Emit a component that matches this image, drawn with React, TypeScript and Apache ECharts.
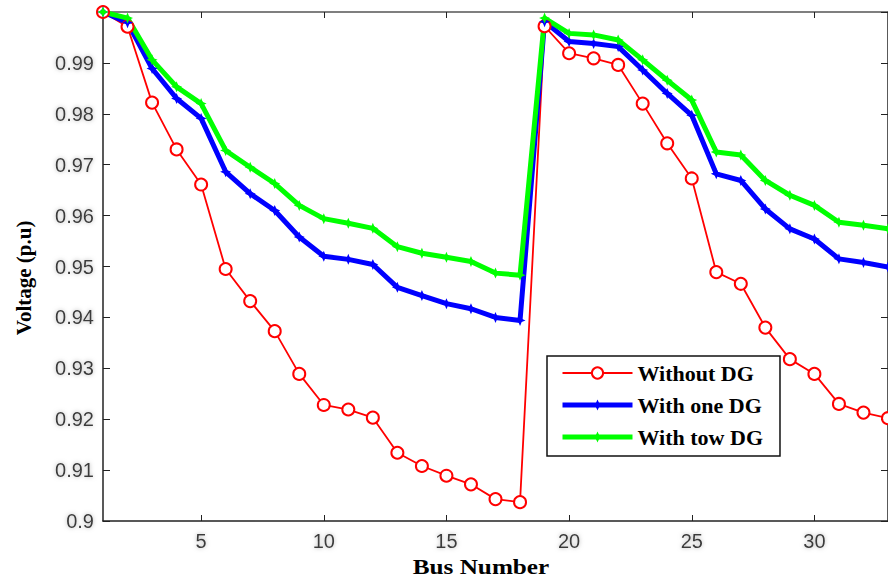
import React, { useEffect, useRef } from "react";
import * as echarts from "echarts";

const busNumbers = [1, 2, 3, 4, 5, 6, 7, 8, 9, 10, 11, 12, 13, 14, 15, 16, 17, 18, 19, 20, 21, 22, 23, 24, 25, 26, 27, 28, 29, 30, 31, 32, 33];
const withoutDG = [1.0, 0.9971, 0.9822, 0.973, 0.9661, 0.9495, 0.9432, 0.9373, 0.9289, 0.9228, 0.9219, 0.9203, 0.9134, 0.9108, 0.9089, 0.9072, 0.9043, 0.9037, 0.9972, 0.9919, 0.9909, 0.9896, 0.982, 0.9742, 0.9673, 0.9489, 0.9466, 0.938, 0.9318, 0.9289, 0.923, 0.9213, 0.9202];
const withOneDG = [1.0, 0.9979, 0.9889, 0.983, 0.9791, 0.9686, 0.9643, 0.961, 0.9558, 0.952, 0.9514, 0.9504, 0.9459, 0.9443, 0.9427, 0.9417, 0.94, 0.9394, 0.9981, 0.9942, 0.9938, 0.9932, 0.9886, 0.984, 0.9797, 0.9682, 0.9669, 0.9613, 0.9574, 0.9554, 0.9515, 0.9508, 0.9499];
const withTwoDG = [1.0, 0.9988, 0.9906, 0.9853, 0.982, 0.9728, 0.9695, 0.9663, 0.962, 0.9594, 0.9585, 0.9575, 0.9539, 0.9526, 0.9518, 0.951, 0.9487, 0.9483, 0.9988, 0.9958, 0.9955, 0.9945, 0.9906, 0.9866, 0.9827, 0.9725, 0.9719, 0.9669, 0.964, 0.962, 0.9587, 0.9581, 0.9574];
const xTickValues = [5, 10, 15, 20, 25, 30];
const seriesNames = ["Without DG", "With one DG", "With tow DG"];

const star = "path://M0,-10 L3,-3 L10,0 L3,3 L0,10 L-3,3 L-10,0 L-3,-3 Z";

export default function App() {
  const ref = useRef<HTMLDivElement>(null);
  useEffect(() => {
    document.body.style.margin = "0";
    const chart = echarts.init(ref.current!, null, { renderer: "svg" });
    const pairs = (arr: number[]) => busNumbers.map((b, i) => [b, arr[i]]);
    const labelStyle = {
      color: "#3a3a3a",
      fontFamily: "Liberation Sans, Arial",
      fontSize: 20,
      textShadowColor: "#b0b0b0",
      textShadowBlur: 4,
    };
    chart.setOption({
      animation: false,
      backgroundColor: "#fff",
      grid: { left: 103, right: 0, top: 12, bottom: 59 },
      xAxis: [
        {
          type: "value",
          min: 1,
          max: 33,
          axisLine: { lineStyle: { color: "#222", width: 1.5 } },
          axisTick: { inside: true, length: 6, customValues: xTickValues, lineStyle: { color: "#222" } },
          axisLabel: { ...labelStyle, margin: 10, customValues: xTickValues },
          splitLine: { show: false },
        },
        {
          type: "value",
          position: "top",
          min: 1,
          max: 33,
          axisLine: { show: true, lineStyle: { color: "#555", width: 1.5 } },
          axisTick: { inside: true, length: 6, customValues: xTickValues, lineStyle: { color: "#222" } },
          axisLabel: { show: false },
          splitLine: { show: false },
        },
      ],
      yAxis: [
        {
          type: "value",
          min: 0.9,
          max: 1.0,
          interval: 0.01,
          axisLine: { show: true, lineStyle: { color: "#222", width: 1.5 } },
          axisTick: { show: true, inside: true, length: 7, lineStyle: { color: "#222" } },
          axisLabel: {
            ...labelStyle,
            margin: 9,
            formatter: (v: number) => (v > 0.9995 ? "" : String(+v.toFixed(2))),
          },
          splitLine: { show: false },
        },
        {
          type: "value",
          position: "right",
          min: 0.9,
          max: 1.0,
          interval: 0.01,
          axisLine: { show: true, lineStyle: { color: "#222", width: 1.5 } },
          axisTick: { show: true, inside: true, length: 7, lineStyle: { color: "#222" } },
          axisLabel: { show: false },
          splitLine: { show: false },
        },
      ],
      legend: {
        orient: "vertical",
        left: 547,
        top: 356,
        padding: [6, 17, 8, 13],
        itemGap: 10,
        itemWidth: 70,
        itemHeight: 14,
        borderColor: "#111",
        borderWidth: 1.5,
        backgroundColor: "#fff",
        data: [
          { name: seriesNames[0], lineStyle: { width: 1.8 } },
          { name: seriesNames[1], lineStyle: { width: 5 } },
          { name: seriesNames[2], lineStyle: { width: 5 } },
        ],
        textStyle: {
          fontFamily: "Liberation Serif, Times New Roman",
          fontWeight: "bold",
          fontSize: 22,
          color: "#000",
        },
      },
      series: [
        {
          name: seriesNames[0],
          type: "line",
          data: pairs(withoutDG),
          symbol: "emptyCircle",
          symbolSize: 12,
          color: "#ff0000",
          lineStyle: { color: "#ff0000", width: 1.8 },
          itemStyle: { color: "#ff0000", borderColor: "#ff0000", borderWidth: 1.8 },
        },
        {
          name: seriesNames[1],
          type: "line",
          data: pairs(withOneDG),
          symbol: star,
          symbolSize: 11,
          color: "#0000ff",
          lineStyle: { color: "#0000ff", width: 5 },
          itemStyle: { color: "#0000ff" },
        },
        {
          name: seriesNames[2],
          type: "line",
          data: pairs(withTwoDG),
          symbol: star,
          symbolSize: 11,
          color: "#00ff00",
          lineStyle: { color: "#00ff00", width: 5 },
          itemStyle: { color: "#00ff00" },
        },
      ],
      graphic: [
        {
          type: "text",
          x: 24,
          y: 278,
          rotation: Math.PI / 2,
          style: {
            text: "Voltage (p.u)",
            fontFamily: "Liberation Serif, Times New Roman",
            fontWeight: "bold",
            fontSize: 21,
            fill: "#000",
            textAlign: "center",
            textVerticalAlign: "middle",
          },
        },
        {
          type: "text",
          x: 481,
          y: 567,
          scaleX: 1.2,
          style: {
            text: "Bus Number",
            fontFamily: "Liberation Serif, Times New Roman",
            fontWeight: "bold",
            fontSize: 21,
            fill: "#000",
            textAlign: "center",
            textVerticalAlign: "middle",
          },
        },
      ],
    });
    return () => chart.dispose();
  }, []);
  return <div ref={ref} style={{ width: 888, height: 580 }} />;
}
